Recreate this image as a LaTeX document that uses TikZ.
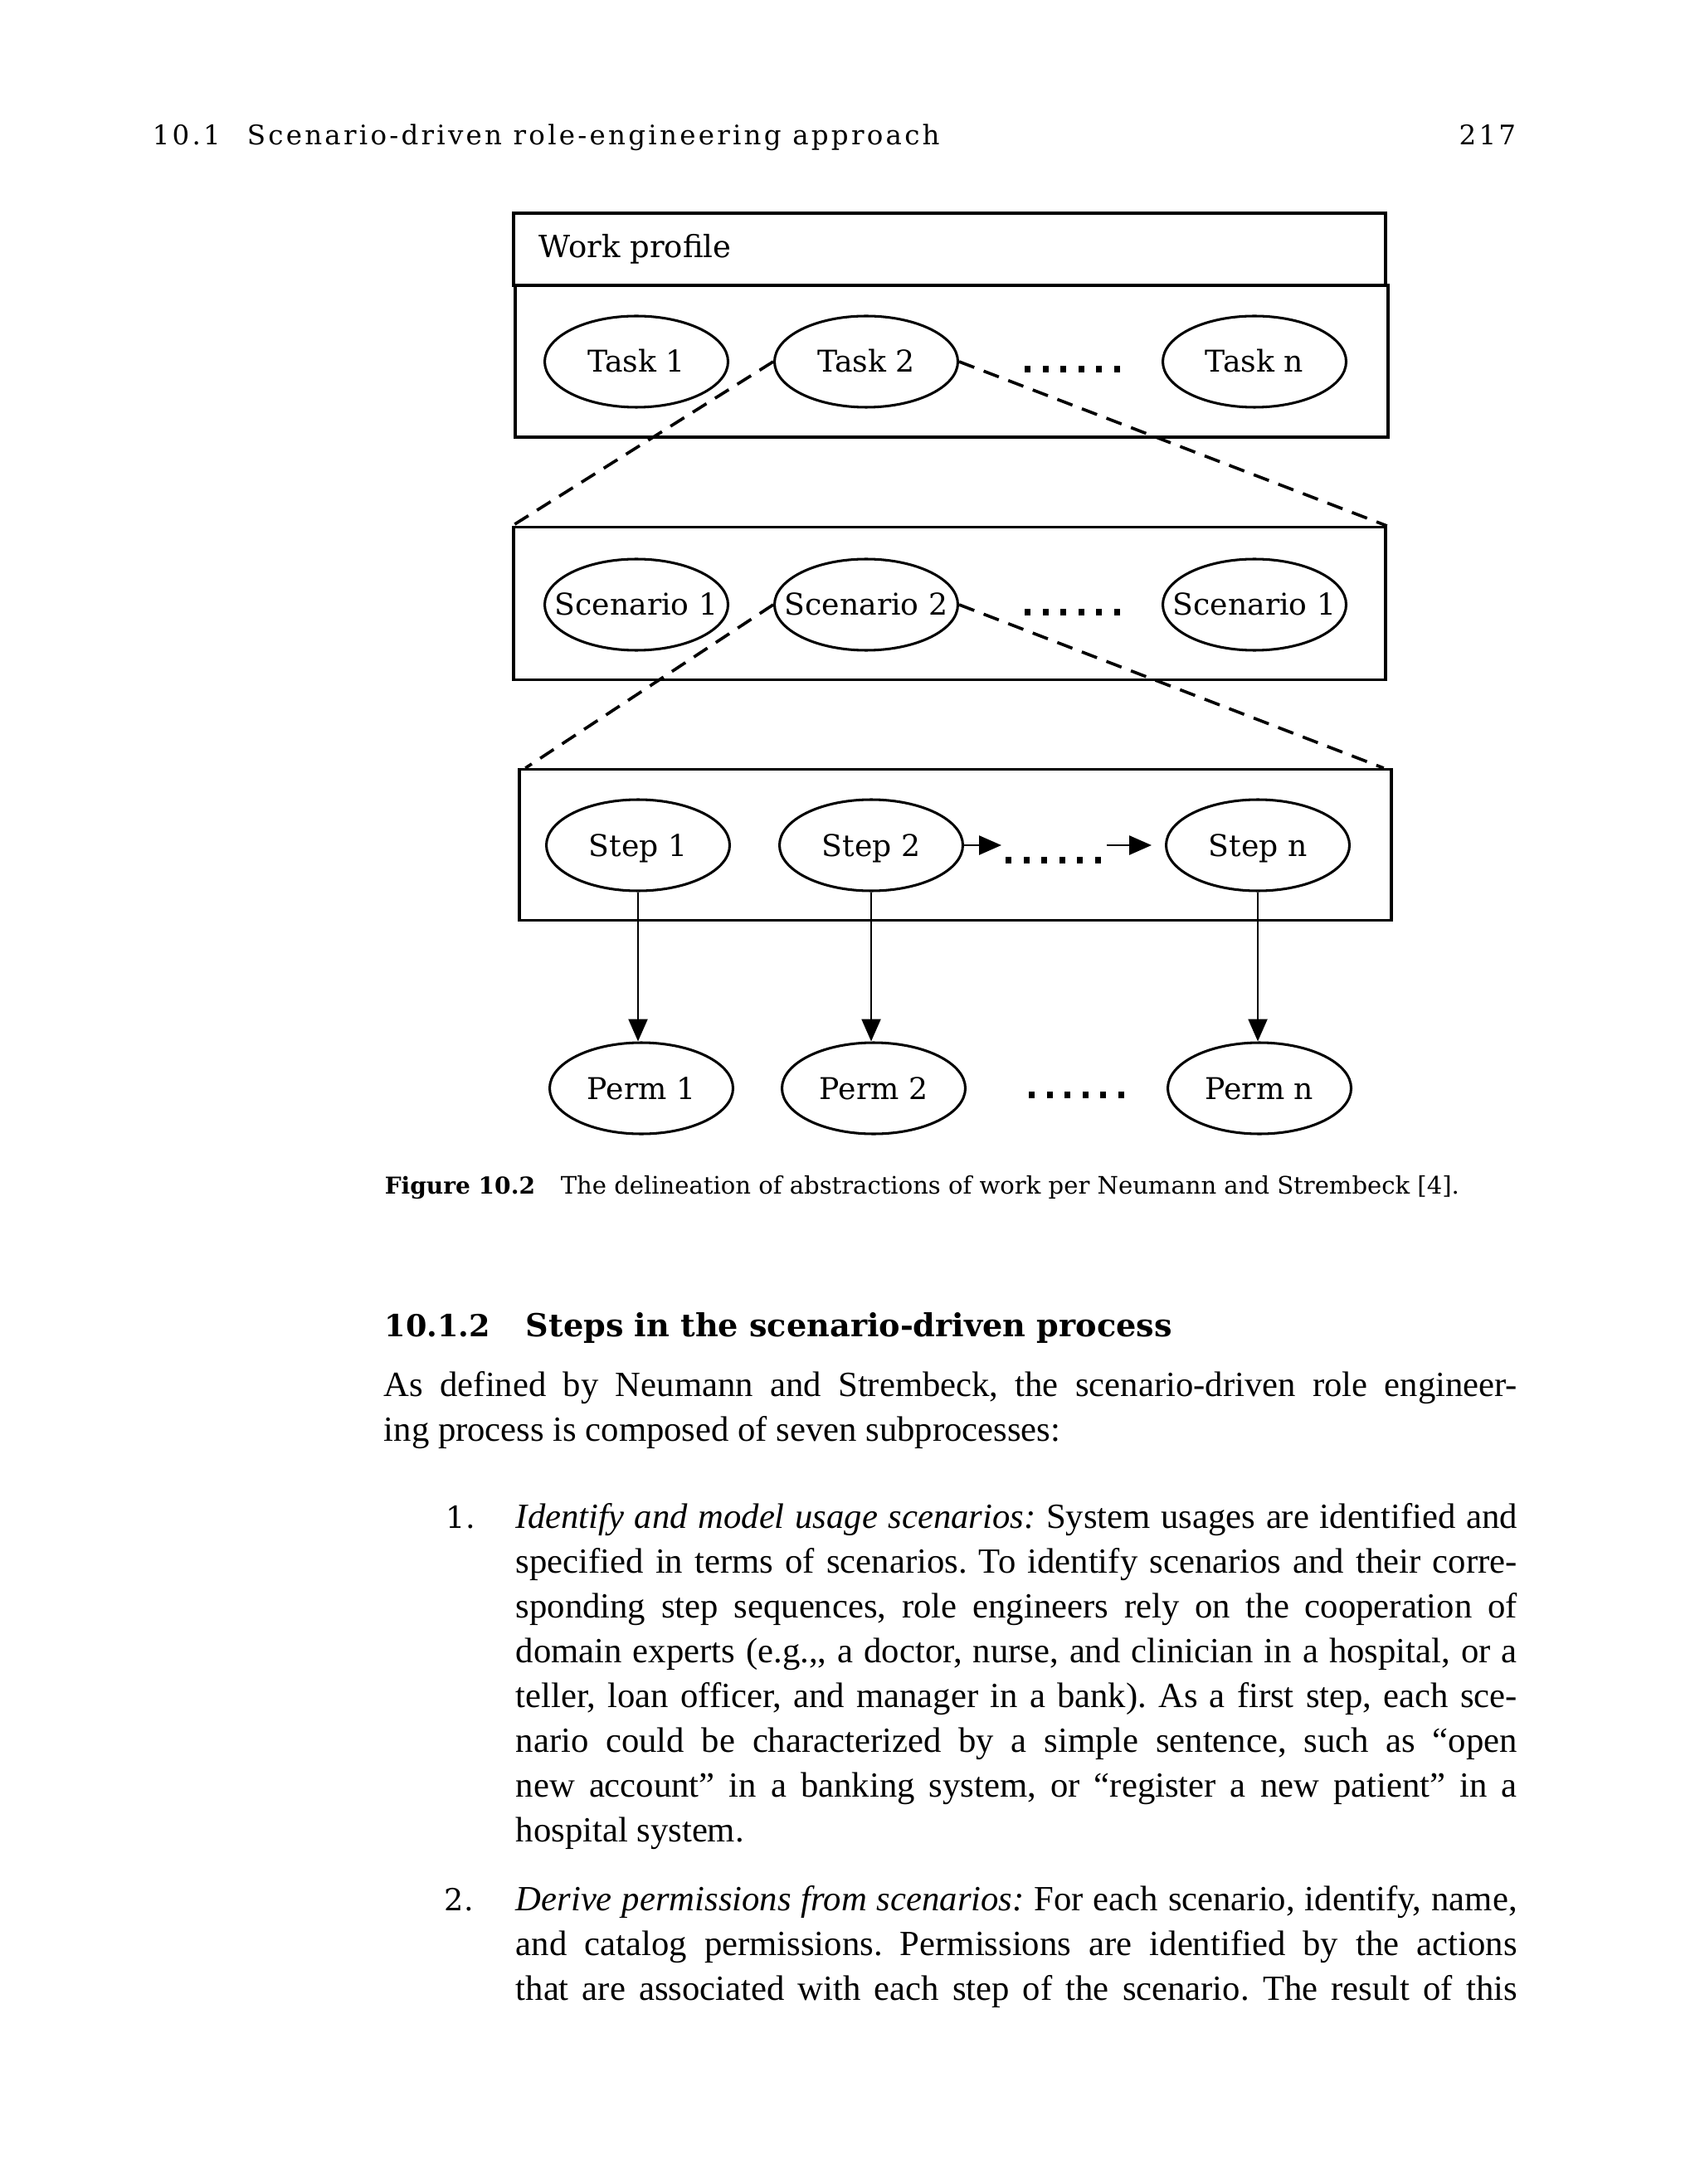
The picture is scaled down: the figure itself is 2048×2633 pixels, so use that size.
\documentclass[tikz,border=0pt]{standalone}
\usepackage{fontspec}
\setmainfont{Liberation Serif}
\newfontfamily\slab{DejaVu Serif}
\newfontfamily\headfont[LetterSpace=10]{DejaVu Serif}
\newfontfamily\bodyfont{Liberation Serif}
\usetikzlibrary{shapes.geometric,arrows.meta,calc}
\newcommand\pxu{0.24609pt}
\newcommand\dfont{\slab\fontsize{8.9}{10.5}\selectfont}
\newcommand\ct[1]{\makebox[0pt]{#1}}
\newcommand\jl[1]{\hbox to \hsize{#1}}
\newcommand\lastl[1]{\hbox{#1}}
\newcommand\sqdots[2]{\foreach \i in {0,...,5}{\fill ({#1+\i*21.6},{#2-4}) rectangle ++(7,8);}}
\frenchspacing
\begin{document}
\begin{tikzpicture}[x=0.24609pt,y=-0.24609pt,
  box/.style={draw, rectangle, line width=0.85pt, inner sep=0pt},
  ell/.style={draw, ellipse, line width=0.75pt, minimum width=221*\pxu, minimum height=110*\pxu, inner sep=0pt, font=\dfont, text height=6.4pt, text depth=0pt},
  dashline/.style={line width=0.9pt, dash pattern=on 4.8pt off 3pt},
  arr/.style={line width=0.7pt, -{Triangle[length=6.6pt,width=5.6pt]}},
  txt/.style={anchor=base west, inner sep=0pt}]
\useasboundingbox (0,0) rectangle (2048,2633);

% running head
\node[txt, font=\headfont\fontsize{8}{9}\selectfont] (hdnum) at (183,175) {10.1};
\node[txt, font=\headfont\fontsize{8}{9}\selectfont] (hdtitle) at (297,175) {Scenario-driven role-engineering approach};
\node[anchor=base east, inner sep=0pt, font=\headfont\fontsize{8}{9}\selectfont] (pageno) at (1828,175) {217};

% work profile
\node[box, minimum width=1051*\pxu, minimum height=87*\pxu] (title) at (1144.5,300.5) {};
\node[txt, font=\slab\fontsize{9.1}{10.5}\selectfont] (wp) at (649,311) {Work profile};
\node[box, minimum width=1052*\pxu, minimum height=183*\pxu] (taskbox) at (1147,435.5) {};
\node[ell] (t1) at (767,436) {\ct{Task 1}};
\node[ell] (t2) at (1044,436) {\ct{Task 2}};
\node[ell] (tn) at (1512,436) {\ct{Task n}};
\sqdots{1235}{445}

% scenarios
\node[box, minimum width=1051*\pxu, minimum height=184*\pxu] (scenbox) at (1144.5,727.7) {};
\node[ell] (sc1) at (767,729) {\ct{Scenario 1}};
\node[ell] (sc2) at (1044,729) {\ct{Scenario 2}};
\node[ell] (sc3) at (1512,729) {\ct{Scenario 1}};
\sqdots{1235}{738}

% steps
\node[box, minimum width=1051*\pxu, minimum height=182*\pxu] (stepbox) at (1151.5,1018.7) {};
\node[ell] (s1) at (769,1019) {\ct{Step 1}};
\node[ell] (s2) at (1050,1019) {\ct{Step 2}};
\node[ell] (sn) at (1516,1019) {\ct{Step n}};
\sqdots{1212}{1037}
\coordinate (a1) at (1207,1019);
\coordinate (a2s) at (1334,1019);
\coordinate (a2e) at (1388,1019);
\draw[arr] (s2.east) -- (a1);
\draw[arr] (a2s) -- (a2e);

% permissions
\node[ell] (p1) at (773,1312) {\ct{Perm 1}};
\node[ell] (p2) at (1053,1312) {\ct{Perm 2}};
\node[ell] (pn) at (1518,1312) {\ct{Perm n}};
\sqdots{1240}{1320}
\draw[arr] (s1.south) -- (s1.south |- p1.north);
\draw[arr] (s2.south) -- (s2.south |- p2.north);
\draw[arr] (sn.south) -- (sn.south |- pn.north);

% dashed zoom lines
\draw[dashline] (t2.west) -- (scenbox.north west);
\draw[dashline] (t2.east) -- (scenbox.north east);
\draw[dashline] (sc2.west) -- ($(stepbox.north west)+(9,0)$);
\draw[dashline] (sc2.east) -- ($(stepbox.north east)+(-11,0)$);

% caption
\node[txt, font=\slab\bfseries\fontsize{6.9}{8}\selectfont] (figlab) at (463,1439) {Figure 10.2};
\node[txt, font=\slab\fontsize{7.15}{8}\selectfont] (figcap) at (675,1439) {The delineation of abstractions of work per Neumann and Strembeck [4].};

% section heading
\node[txt, font=\slab\bfseries\fontsize{9}{10}\selectfont] (secnum) at (463,1611) {10.1.2};
\node[txt, font=\slab\bfseries\fontsize{9.4}{10}\selectfont] (sectitle) at (633,1611) {Steps in the scenario-driven process};

% body
\node[txt] (intro) at (462,1683) {\vtop{\hsize=336.2pt\bodyfont\fontsize{10.5}{13.29}\selectfont\frenchspacing
\jl{As defined by Neumann and Strembeck, the scenario-driven role engineer-}
\lastl{ing process is composed of seven subprocesses:}}};

\node[txt, font=\slab\fontsize{9}{11}\selectfont] (n1) at (537,1842) {1.};
\node[txt] (item1) at (621,1842) {\vtop{\hsize=297pt\bodyfont\fontsize{10.5}{13.29}\selectfont\frenchspacing
\jl{\textit{Identify and model usage scenarios:} System usages are identified and}
\jl{specified in terms of scenarios. To identify scenarios and their corre-}
\jl{sponding step sequences, role engineers rely on the cooperation of}
\jl{domain experts (e.g.,, a doctor, nurse, and clinician in a hospital, or a}
\jl{teller, loan officer, and manager in a bank). As a first step, each sce-}
\jl{nario could be characterized by a simple sentence, such as “open}
\jl{new account” in a banking system, or “register a new patient” in a}
\lastl{hospital system.}}};

\node[txt, font=\slab\fontsize{9}{11}\selectfont] (n2) at (535,2303) {2.};
\node[txt] (item2) at (621,2303) {\vtop{\hsize=297pt\bodyfont\fontsize{10.5}{13.29}\selectfont\frenchspacing
\jl{\textit{Derive permissions from scenarios:} For each scenario, identify, name,}
\jl{and catalog permissions. Permissions are identified by the actions}
\jl{that are associated with each step of the scenario. The result of this}}};
\end{tikzpicture}
\end{document}
